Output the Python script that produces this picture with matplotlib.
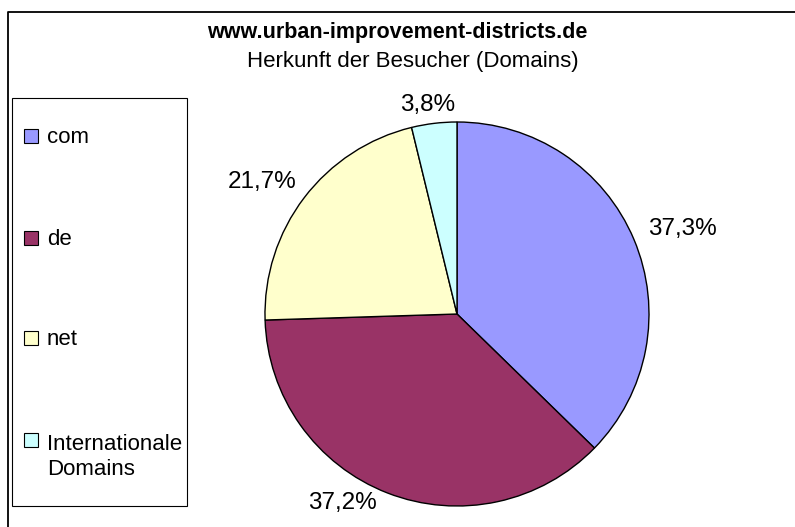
import matplotlib
matplotlib.use('Agg')
import matplotlib.pyplot as plt
from matplotlib.patches import Rectangle
from matplotlib.lines import Line2D

# ---- data ----
categories = ["com", "de", "net", "Internationale Domains"]
shares = [37.3, 37.2, 21.7, 3.8]
colors = ["#9999FF", "#993366", "#FFFFCC", "#CCFFFF"]
title = "www.urban-improvement-districts.de"
subtitle = "Herkunft der Besucher (Domains)"

plt.rcParams['font.family'] = ['Liberation Sans', 'DejaVu Sans']

W, H = 795, 527
fig = plt.figure(figsize=(W / 100, H / 100), dpi=100)


def fx(x):
    return x / W


def fy(y):
    return 1 - y / H


# outer chart frame (only top and left visible)
fig.add_artist(Line2D([fx(8), fx(8), 1.0], [0.0, fy(12), fy(12)],
                      color='black', lw=1.3, transform=fig.transFigure))

fig.text(fx(397.5), fy(38), title, ha='center', va='baseline',
         fontsize=15.5, fontweight='bold')
fig.text(fx(412.5), fy(67), subtitle, ha='center', va='baseline', fontsize=16)

# pie
ax = fig.add_axes([fx(265), fy(506), 384 / W, 384 / H])
wedges = ax.pie(
    shares, colors=colors, startangle=90, counterclock=False,
    wedgeprops=dict(edgecolor='black', linewidth=1.0))[0]
ax.set_xlim(-1, 1)
ax.set_ylim(-1, 1)
ax.axis('off')

label_px = [(682, 229), (342, 503.5), (262, 182), (428, 105.5)]
for v, (px, py) in zip(shares, label_px):
    fig.text(fx(px), fy(py), f"{v:.1f}".replace('.', ',') + '%',
             ha='center', va='center', fontsize=17.5)

# legend box
fig.add_artist(Rectangle((fx(12), fy(506)), 175 / W, (506 - 98) / H,
                         transform=fig.transFigure, fill=False,
                         edgecolor='black', lw=0.8))
legend_cy = [136, 238, 338, 440]
line_px = 28
for cat, col, cy in zip(categories, colors, legend_cy):
    fig.add_artist(Rectangle((fx(24), fy(cy + 7)), 14 / W, 14 / H,
                             transform=fig.transFigure, facecolor=col,
                             edgecolor='black', lw=0.8))
    label = cat.replace(' ', '\n')
    n = label.count('\n')
    fig.text(fx(47), fy(cy + 7 + n * line_px), label, ha='left',
             va='baseline', fontsize=16, linespacing=1.23)

fig.savefig('out.png', dpi=100)
